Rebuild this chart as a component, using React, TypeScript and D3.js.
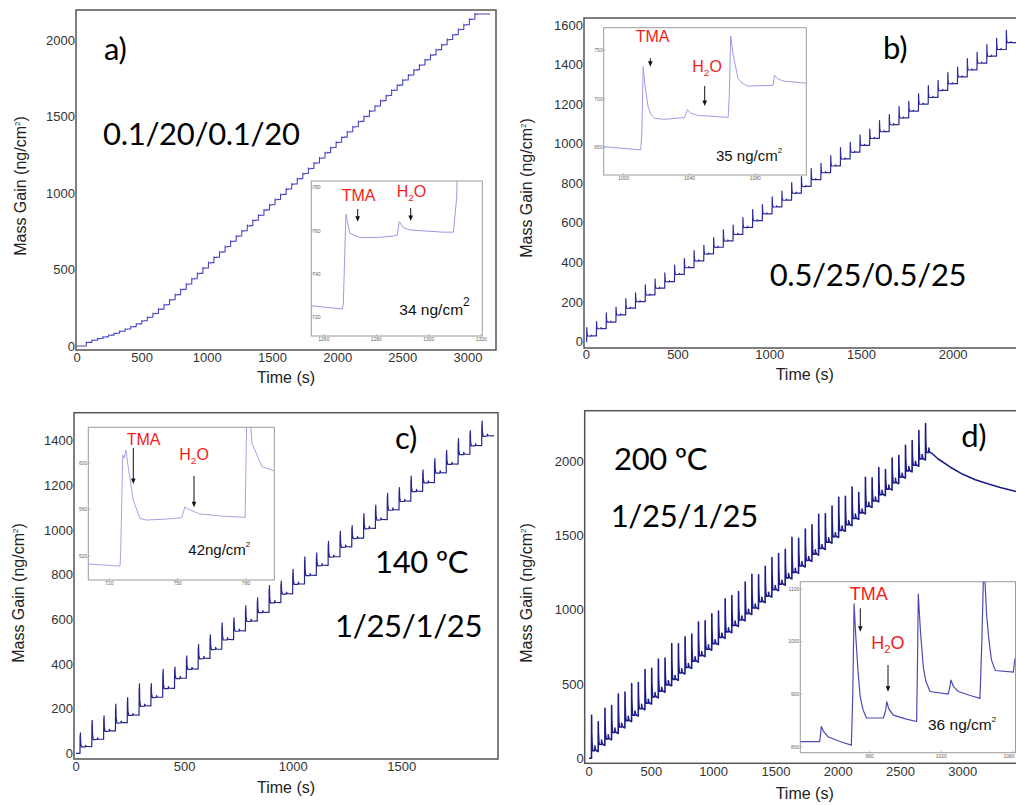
import React from "react";
import * as d3 from "d3";

type Pt = [number, number];
type Frame = { x0: number; y0: number; x1: number; y1: number };

// ---------------- DATA ----------------
// Panel a) 0.1/20/0.1/20 : one step per ALD cycle, mass level after each cycle (ng/cm2)
const aStart = 71;
const aPeriod = 42.6;
const aLevels = [
  24, 38, 49, 60, 71, 83, 97, 111, 127, 145, 165, 188, 213, 241, 270, 302, 336, 370, 405, 440,
  475, 510, 545, 580, 615, 650, 685, 719, 753, 787, 822, 855, 890, 923, 958, 991, 1026, 1059, 1094, 1127,
  1160, 1196, 1229, 1264, 1297, 1332, 1365, 1400, 1433, 1468, 1501, 1536, 1569, 1604, 1637, 1672, 1705, 1739, 1771, 1805,
  1837, 1871, 1903, 1937, 1969, 2003, 2035, 2069, 2100, 2136, 2170,
];
// cycle shape: [fraction of period, fraction of step, fraction of TMA spike]
const aProfile = [[0, 0, 0], [0.012, 1.12, 0], [0.05, 0.93, 0], [0.45, 0.95, 0], [0.47, 1.05, 0], [0.52, 1, 0], [1, 1, 0]];
const aTailTime = [3170];
const aTailMass = [2170];

// Panel b) 0.5/25/0.5/25
const bStart = 2;
const bPeriod = 53.2;
const bLevels = [
  29, 66, 99, 135, 169, 202, 236, 270, 303, 340, 374, 408, 443, 477, 509, 542, 577, 611, 646, 681,
  715, 750, 784, 819, 854, 888, 923, 957, 992, 1027, 1061, 1096, 1130, 1165, 1200, 1234, 1269, 1303, 1338, 1373,
  1407, 1442, 1476, 1511,
];
const bSpikes = [
  71, 72, 80, 76, 82, 78, 85, 80, 77, 84, 80, 86, 78, 83, 88, 80, 85, 90, 82, 86,
  80, 88, 84, 90, 82, 86, 92, 84, 88, 82, 90, 86, 92, 84, 88, 94, 86, 90, 84, 92,
  88, 94, 90, 96,
];
const bProfile = [[0, 0, 0], [0.012, 0, 1], [0.04, 0.7, 0.3], [0.09, 1.0, 0], [0.45, 0.98, 0], [0.47, 1.15, 0], [0.53, 1.0, 0], [1, 1, 0]];

// Panel c) 140 ºC 1/25/1/25
const cStart = 18.4;
const cPeriod = 54.4;
const cLevels = [
  30, 63, 100, 137, 171, 212, 251, 291, 336, 377, 425, 466, 509, 548, 592, 631, 675, 714, 758, 797,
  841, 880, 924, 963, 1007, 1046, 1090, 1129, 1173, 1212, 1256, 1295, 1339, 1378, 1421,
];
const cSpikes = [
  92, 118, 105, 120, 112, 140, 100, 125, 95, 100, 110, 105, 118, 98, 112, 104, 120, 96, 110, 122,
  100, 108, 115, 96, 110, 104, 118, 100, 112, 96, 108, 100, 114, 106, 110,
];
const cProfile = [[0, 0, 0], [0.008, 0, 0.85], [0.02, 0, 0.8], [0.035, 0, 1], [0.06, 0.8, 0.25], [0.12, 0.96, 0], [0.46, 0.97, 0], [0.48, 1.2, 0], [0.54, 1.02, 0], [1, 1, 0]];
const cTailTime = [1920];
const cTailMass = [1421];

// Panel d) 200 ºC 1/25/1/25
const dStart = 20;
const dPeriod = 53.6;
const dLevels = [
  45, 87, 125, 167, 205, 247, 285, 327, 365, 407, 445, 487, 525, 567, 605, 647, 685, 727, 765, 807,
  845, 887, 925, 967, 1005, 1047, 1085, 1127, 1165, 1207, 1245, 1287, 1325, 1367, 1405, 1447, 1485, 1527, 1565, 1607,
  1645, 1687, 1725, 1767, 1805, 1847, 1885, 1927, 1965, 2007, 2050,
];
const dSpikes = [
  290, 200, 250, 230, 265, 240, 255, 225, 270, 240, 260, 230, 285, 245, 250, 230, 270, 240, 245, 225,
  265, 250, 235, 260, 270, 230, 245, 265, 250, 240, 280, 235, 255, 245, 275, 240, 250, 270, 235, 260,
  180, 245, 200, 230, 175, 215, 190, 220, 210, 240, 245,
];
const dProfile = [[0, 0, 0], [0.015, 0, 1], [0.04, 0.6, 0.5], [0.065, 1.1, 0.3], [0.1, 1.15, 0.12], [0.14, 1.15, 0.05], [0.19, 1.15, 0], [0.5, 1.15, 0], [0.51, 1.85, 0], [0.56, 1.45, 0], [0.62, 1.25, 0], [0.8, 1.1, 0], [1, 1, 0]];
const dDecayTime = [2800, 2900, 3000, 3100, 3200, 3300, 3420, 3560];
const dDecayMass = [2015, 1958, 1910, 1874, 1846, 1822, 1796, 1772];

// Insets (one ALD cycle zoomed)
const insetATime = [1255.2, 1267.0, 1267.4, 1268.4, 1269.9, 1273.7, 1280.1, 1286.5, 1288.0, 1288.7, 1290.3, 1292.8, 1305.5, 1309.4, 1310.6, 1311.2];
const insetAMass = [725.3, 723.8, 726, 767.7, 758.9, 756.9, 756.9, 757.6, 758.0, 764.3, 761.5, 760.4, 759.4, 759.4, 775, 800];
const insetBTime = [987.8, 1010.3, 1011.0, 1011.8, 1013.0, 1014.8, 1016.5, 1018.8, 1025.0, 1037.0, 1038.6, 1041.0, 1045.3, 1063.5, 1064.2, 1065.0, 1066.5, 1069.5, 1072.0, 1075.6, 1090.7, 1091.7, 1094.0, 1097.8, 1111.0];
const insetBMass = [651, 647.7, 665, 733, 712, 692, 684, 680, 679, 680.8, 689, 685, 683, 681, 705, 764.3, 745, 721, 716, 713, 713.8, 724, 720, 718, 716];
const insetCTime = [710.8, 724.7, 725.0, 725.9, 726.5, 727.3, 728.3, 730.5, 733.5, 736.4, 745.0, 751.8, 753.2, 754.7, 759.8, 770.0, 779.6, 780.3, 781.5, 782.6, 787.0, 792.4];
const insetCMass = [512.9, 511.1, 522, 606.6, 604, 611, 596.6, 568, 552, 550.7, 551.5, 552.7, 562, 560, 555.9, 554, 553, 640, 650, 616.7, 596.6, 593];
const insetDTime = [901.8, 918.0, 918.8, 919.4, 921.0, 925.0, 935.0, 944.6, 945.8, 946.9, 948.3, 950.3, 952.0, 954.4, 957.2, 971.4, 973.5, 974.2, 976.0, 979.8, 990.0, 999.3, 1000.0, 1000.7, 1002.5, 1004.9, 1007.0, 1010.5, 1025.8, 1027.3, 1028.1, 1030.0, 1034.2, 1045.0, 1052.4, 1054.0, 1055.5, 1056.5, 1058.0, 1059.7, 1062.0, 1065.3, 1080.4, 1081.2, 1081.8];
const insetDMass = [809.5, 809.5, 825, 839, 830, 819, 810, 803, 900, 1072.6, 1010, 940, 895, 870, 855, 854.6, 870, 886, 872, 860, 853, 848, 950, 1091, 1020, 952, 925, 905, 900, 915, 927, 915, 905, 897, 892, 1000, 1140, 1120, 1050, 1008, 965, 945, 942, 958, 968];

// Tick values
const aXTicks = [0, 500, 1000, 1500, 2000, 2500, 3000];
const aYTicks = [0, 500, 1000, 1500, 2000];
const bXTicks = [0, 500, 1000, 1500, 2000];
const bYTicks = [0, 200, 400, 600, 800, 1000, 1200, 1400, 1600];
const cXTicks = [0, 500, 1000, 1500];
const cYTicks = [0, 200, 400, 600, 800, 1000, 1200, 1400];
const dXTicks = [0, 500, 1000, 1500, 2000, 2500, 3000];
const dYTicks = [0, 500, 1000, 1500, 2000];
const insetAXTicks = [1260, 1280, 1300, 1320];
const insetAYTicks = [720, 740, 760, 780];
const insetBXTicks = [1000, 1040, 1080];
const insetBYTicks = [650, 700, 750];
const insetCXTicks = [720, 750, 780];
const insetCYTicks = [520, 560, 600];
const insetDXTicks = [960, 1020, 1080];
const insetDYTicks = [800, 900, 1000, 1100];

// ---------------- HELPERS ----------------
function buildCycles(start: number, period: number, levels: number[], profile: number[][], spikes: number[] | null): Pt[] {
  const pts: Pt[] = [[0, 0], [start, 0]];
  levels.forEach((L, k) => {
    const prev = k === 0 ? 0 : levels[k - 1];
    const step = L - prev;
    const h = spikes ? spikes[k] : 0;
    profile.forEach(([f, r, s]) => {
      pts.push([start + (k + f) * period, prev + r * step + s * h]);
    });
  });
  return pts;
}
const zip = (a: number[], b: number[]): Pt[] => a.map((v, i) => [v, b[i]] as Pt);

const SANS = "'Liberation Sans', Arial, sans-serif";
const BIG = "Lato, 'Open Sans', sans-serif";
const W = 1016;

function Panel(props: {
  id: string; frame: Frame; xDom: number[]; yDom: number[]; xTicks: number[]; yTicks: number[];
  points: Pt[]; color: string; width: number; xLabDy: number;
  timeX: number; timeY: number; massX: number; massY: number;
}) {
  const { id, frame, xDom, yDom, xTicks, yTicks, points, color, width, xLabDy } = props;
  const x = d3.scaleLinear().domain(xDom).range([frame.x0, frame.x1]);
  const y = d3.scaleLinear().domain(yDom).range([frame.y1, frame.y0]);
  const line = d3.line<Pt>().x((d) => x(d[0])).y((d) => y(d[1]));
  return (
    <g>
      <clipPath id={id}>
        <rect x={frame.x0} y={frame.y0} width={frame.x1 - frame.x0} height={frame.y1 - frame.y0} />
      </clipPath>
      <path d={line(points) || ""} fill="none" stroke={color} strokeWidth={width} strokeLinejoin="round" clipPath={`url(#${id})`} />
      <rect x={frame.x0} y={frame.y0} width={frame.x1 - frame.x0} height={frame.y1 - frame.y0} fill="none" stroke="#555" strokeWidth={1.5} />
      {yTicks.map((v) => (
        <text key={"y" + v} x={frame.x0 - 1} y={y(v) + 4.6} textAnchor="end" fontFamily={SANS} fontSize={13} fill="#333">{v}</text>
      ))}
      {xTicks.map((v) => (
        <text key={"x" + v} x={x(v)} y={frame.y1 + xLabDy} textAnchor="middle" fontFamily={SANS} fontSize={13} fill="#333">{v}</text>
      ))}
      <text x={props.timeX} y={props.timeY} textAnchor="middle" fontFamily={SANS} fontSize={16} fill="#222">Time (s)</text>
      <text transform={`translate(${props.massX},${props.massY}) rotate(-90)`} textAnchor="middle" fontFamily={SANS} fontSize={16} fill="#222">
        Mass Gain (ng/cm<tspan dy={-6} fontSize={8}>2</tspan><tspan dy={6}>)</tspan>
      </text>
    </g>
  );
}

type Ann = {
  tma: [number, number]; tmaArrow: [number, number, number];
  h2o: [number, number]; h2oArrow: [number, number, number];
  mass: [number, number]; massText: string; size: number; massSize: number; supSize: number; supDy: number;
};

function Arrow({ a }: { a: [number, number, number] }) {
  const [x, y1, y2] = a;
  return (
    <g>
      <line x1={x} y1={y1} x2={x} y2={y2 - 4} stroke="#111" strokeWidth={1} />
      <path d={`M${x - 2.3},${y2 - 5.5}L${x + 2.3},${y2 - 5.5}L${x},${y2}Z`} fill="#111" />
    </g>
  );
}

function Inset(props: {
  id: string; frame: Frame; xDom: number[]; yDom: number[]; xTicks: number[]; yTicks: number[];
  time: number[]; mass: number[]; color: string; width: number; yInside: boolean; xLabY: number; ann: Ann;
}) {
  const { id, frame, xDom, yDom, xTicks, yTicks, color, width, ann } = props;
  const x = d3.scaleLinear().domain(xDom).range([frame.x0, frame.x1]);
  const y = d3.scaleLinear().domain(yDom).range([frame.y1, frame.y0]);
  const line = d3.line<Pt>().x((d) => x(d[0])).y((d) => y(d[1]));
  const pts = zip(props.time, props.mass);
  return (
    <g>
      <rect x={frame.x0} y={frame.y0} width={frame.x1 - frame.x0} height={frame.y1 - frame.y0} fill="#fff" stroke="#9a9a9a" strokeWidth={1} />
      <clipPath id={id}>
        <rect x={frame.x0} y={frame.y0} width={frame.x1 - frame.x0} height={frame.y1 - frame.y0} />
      </clipPath>
      <path d={line(pts) || ""} fill="none" stroke={color} strokeWidth={width} clipPath={`url(#${id})`} />
      {yTicks.map((v) => (
        <g key={"y" + v}>
          <line x1={frame.x0} x2={frame.x0 + 2} y1={y(v)} y2={y(v)} stroke="#999" strokeWidth={0.6} />
          <text x={props.yInside ? frame.x0 + 1 : frame.x0 - 1} y={y(v) + 1.8} textAnchor={props.yInside ? "start" : "end"} fontFamily={SANS} fontSize={5} fill="#666">{v}</text>
        </g>
      ))}
      {xTicks.map((v) => (
        <g key={"x" + v}>
          <line x1={x(v)} x2={x(v)} y1={frame.y1} y2={frame.y1 - 2} stroke="#999" strokeWidth={0.6} />
          <text x={Math.min(x(v), W - 7)} y={props.xLabY} textAnchor="middle" fontFamily={SANS} fontSize={5} fill="#666">{v}</text>
        </g>
      ))}
      <text x={ann.tma[0]} y={ann.tma[1]} fontFamily={SANS} fontSize={ann.size} fill="#f41c1c">TMA</text>
      <Arrow a={ann.tmaArrow} />
      <text x={ann.h2o[0]} y={ann.h2o[1]} fontFamily={SANS} fontSize={ann.size} fill="#f41c1c">
        H<tspan dy={4} fontSize={ann.size * 0.62}>2</tspan><tspan dy={-4}>O</tspan>
      </text>
      <Arrow a={ann.h2oArrow} />
      <text x={ann.mass[0]} y={ann.mass[1]} fontFamily={SANS} fontSize={ann.massSize} fill="#111">
        {ann.massText}<tspan dy={ann.supDy} fontSize={ann.supSize}>2</tspan>
      </text>
    </g>
  );
}

function Big({ x, y, children }: { x: number; y: number; children: React.ReactNode }) {
  return (
    <text x={x} y={y} fontFamily={BIG} fontSize={31} letterSpacing={-0.3} fill="#000">{children}</text>
  );
}

export default function App() {
  const aPts = [...buildCycles(aStart, aPeriod, aLevels, aProfile, null), ...zip(aTailTime, aTailMass)];
  const bPts = buildCycles(bStart, bPeriod, bLevels, bProfile, bSpikes);
  const cPts = [...buildCycles(cStart, cPeriod, cLevels, cProfile, cSpikes), ...zip(cTailTime, cTailMass)];
  const dPts = [...buildCycles(dStart, dPeriod, dLevels, dProfile, dSpikes), ...zip(dDecayTime, dDecayMass)];

  return (
    <svg width={1016} height={805} style={{ position: "absolute", left: 0, top: 0 }}>
      <rect x={0} y={0} width={1016} height={805} fill="#fff" />

      {/* a */}
      <Panel id="pa" frame={{ x0: 76, y0: 10, x1: 496, y1: 350 }} xDom={[-7.7, 3215]} yDom={[-26, 2196]}
        xTicks={aXTicks} yTicks={aYTicks} points={aPts} color="#4646c4" width={1.1} xLabDy={11.5}
        timeX={286} timeY={382.7} massX={26} massY={186} />
      <Big x={104} y={59.5}>a)</Big>
      <Big x={103} y={145}>0.1/20/0.1/20</Big>
      <Inset id="ia" frame={{ x0: 311.3, y0: 181, x1: 482.3, y1: 336 }} xDom={[1255.2, 1320.4]} yDom={[711.3, 783.1]}
        xTicks={insetAXTicks} yTicks={insetAYTicks} time={insetATime} mass={insetAMass} color="#9a9ae6" width={1}
        yInside={true} xLabY={341}
        ann={{ tma: [341.7, 200.7], tmaArrow: [357.7, 209, 221.7], h2o: [396.7, 196.7], h2oArrow: [410.7, 208, 221],
          mass: [399.3, 315], massText: "34 ng/cm", size: 16, massSize: 15.5, supSize: 12, supDy: -9 }} />

      {/* b */}
      <Panel id="pb" frame={{ x0: 584, y0: 18, x1: 1030, y1: 348 }} xDom={[-12.5, 2419]} yDom={[-32, 1635]}
        xTicks={bXTicks} yTicks={bYTicks} points={bPts} color="#2a2a9c" width={1.2} xLabDy={10.5}
        timeX={804.7} timeY={380} massX={532} massY={188} />
      <Inset id="ib" frame={{ x0: 603.7, y0: 27.7, x1: 806.3, y1: 175 }} xDom={[987.8, 1111]} yDom={[622, 772.8]}
        xTicks={insetBXTicks} yTicks={insetBYTicks} time={insetBTime} mass={insetBMass} color="#9d9de6" width={1}
        yInside={false} xLabY={180}
        ann={{ tma: [635.7, 41.7], tmaArrow: [650.3, 58.3, 66.7], h2o: [692.3, 71.7], h2oArrow: [704.7, 86, 106],
          mass: [716, 160.5], massText: "35 ng/cm", size: 16, massSize: 15, supSize: 8, supDy: -8 }} />
      <Big x={883} y={59}>b)</Big>
      <Big x={769.7} y={286}>0.5/25/0.5/25</Big>

      {/* c */}
      <Panel id="pc" frame={{ x0: 74, y0: 412.7, x1: 498, y1: 759 }} xDom={[-9.2, 1943]} yDom={[-25.5, 1525]}
        xTicks={cXTicks} yTicks={cYTicks} points={cPts} color="#25258e" width={1.2} xLabDy={11.5}
        timeX={286} timeY={792.7} massX={24} massY={593} />
      <Inset id="ic" frame={{ x0: 88.3, y0: 427.3, x1: 274.3, y1: 580 }} xDom={[710.8, 792.4]} yDom={[499.1, 630.5]}
        xTicks={insetCXTicks} yTicks={insetCYTicks} time={insetCTime} mass={insetCMass} color="#a3a3e2" width={1}
        yInside={false} xLabY={584.5}
        ann={{ tma: [126.7, 445], tmaArrow: [133.3, 448, 484], h2o: [179.3, 460], h2oArrow: [194, 476, 507.3],
          mass: [188.3, 554.5], massText: "42ng/cm", size: 16, massSize: 15, supSize: 8, supDy: -8 }} />
      <Big x={395} y={449.3}>c)</Big>
      <Big x={375} y={572.7}>140 ºC</Big>
      <Big x={335} y={637.3}>1/25/1/25</Big>

      {/* d */}
      <Panel id="pd" frame={{ x0: 584.7, y0: 410.7, x1: 1030, y1: 763.3 }} xDom={[-34.5, 3539]} yDom={[-33.6, 2338]}
        xTicks={dXTicks} yTicks={dYTicks} points={dPts} color="#1c1c88" width={1.6} xLabDy={12.5}
        timeX={804.7} timeY={799.3} massX={532} massY={593} />
      <Inset id="id" frame={{ x0: 800.3, y0: 581.7, x1: 1015.5, y1: 752.7 }} xDom={[901.8, 1082.2]} yDom={[788.6, 1113.9]}
        xTicks={insetDXTicks} yTicks={insetDYTicks} time={insetDTime} mass={insetDMass} color="#4c4cb2" width={1.2}
        yInside={false} xLabY={758}
        ann={{ tma: [849.7, 600], tmaArrow: [860.3, 608.3, 631.7], h2o: [871.3, 649.3], h2oArrow: [888, 665, 691.7],
          mass: [928, 730], massText: "36 ng/cm", size: 18, massSize: 15.5, supSize: 8, supDy: -8 }} />
      <Big x={961.3} y={447.3}>d)</Big>
      <Big x={614} y={470}>200 ºC</Big>
      <Big x={610.7} y={526.7}>1/25/1/25</Big>
    </svg>
  );
}
